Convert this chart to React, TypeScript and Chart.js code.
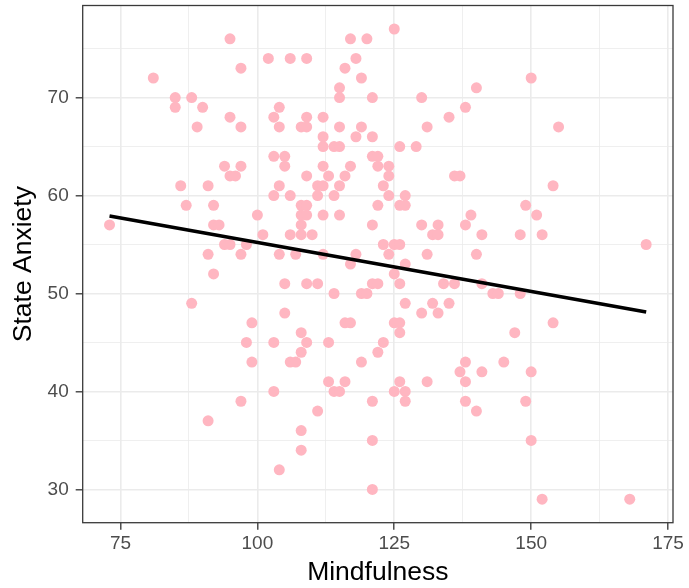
import React, { useEffect, useRef } from 'react';
import { Chart, registerables } from 'chart.js';

Chart.register(...registerables);

// Mindfulness (x) and State Anxiety (y) of each participant
const mindfulness = [
  73, 81, 85, 85, 88, 90, 89, 86, 87, 88, 91, 91, 92, 92, 93, 92, 94, 95, 97, 98,
  100, 101, 103, 104, 104, 105, 105, 99, 98, 103, 99, 103, 97, 91, 104, 95, 102, 97, 95, 97,
  104, 103, 104, 94, 97, 95, 96, 103, 105, 105, 125, 117, 120, 106, 109, 118, 116, 119, 115, 115,
  121, 130, 140, 138, 135, 131, 109, 112, 108, 109, 115, 119, 118, 121, 112, 112, 114, 115, 126, 129,
  121, 122, 112, 117, 122, 124, 124, 109, 113, 116, 136, 137, 150, 155, 106, 111, 112, 115, 123, 127,
  124, 111, 114, 108, 109, 122, 126, 127, 108, 109, 112, 115, 121, 130, 133, 132, 133, 138, 139, 141,
  108, 106, 108, 110, 123, 125, 126, 131, 140, 107, 112, 118, 124, 117, 127, 125, 109, 111, 121, 122,
  126, 134, 136, 114, 119, 120, 127, 132, 135, 130, 133, 116, 117, 125, 126, 126, 108, 109, 113, 123,
  108, 122, 154, 149, 151, 148, 152, 171, 141, 143, 144, 148, 154, 147, 106, 107, 119, 113, 116, 114,
  115, 121, 111, 108, 108, 121, 121, 126, 125, 127, 127, 131, 138, 137, 138, 141, 138, 140, 145, 150,
  149, 150, 152, 168,
];
const anxiety = [
  57, 72, 70, 69, 70, 69, 67, 61, 59, 49, 61, 54, 52, 57, 57, 59, 55, 55, 54, 55,
  58, 56, 60, 61, 54, 51, 48, 47, 45, 45, 43, 40, 39, 37, 32, 76, 74, 73, 68, 67,
  69, 68, 67, 63, 63, 62, 62, 64, 64, 63, 77, 76, 76, 74, 74, 74, 73, 72, 71, 70,
  70, 70, 71, 69, 68, 67, 68, 68, 67, 67, 67, 67, 66, 66, 66, 65, 65, 65, 65, 65,
  64, 64, 63, 63, 63, 63, 62, 62, 62, 62, 62, 62, 72, 67, 60, 61, 61, 61, 61, 60,
  60, 60, 60, 59, 59, 59, 59, 59, 58, 58, 58, 58, 57, 57, 57, 56, 56, 57, 58, 56,
  57, 56, 56, 56, 55, 55, 55, 54, 54, 54, 54, 54, 54, 53, 53, 52, 51, 51, 51, 51,
  51, 51, 51, 50, 50, 50, 49, 49, 49, 48, 48, 47, 47, 47, 47, 46, 46, 45, 45, 45,
  44, 44, 61, 59, 58, 56, 56, 55, 51, 50, 50, 50, 47, 46, 43, 43, 43, 41, 41, 40,
  40, 39, 38, 36, 34, 35, 30, 41, 40, 40, 39, 41, 43, 42, 41, 42, 39, 38, 43, 42,
  39, 35, 29, 29,
];

// Fitted linear trend, read at the ends of the data range
const fitMindfulness = [73, 171];
const fitAnxiety = [57.9, 48.1];

const xMajorTicks = [75, 100, 125, 150, 175];
const xMinorTicks = [87.5, 112.5, 137.5, 162.5];
const yMajorTicks = [30, 40, 50, 60, 70];
const yMinorTicks = [35, 45, 55, 65, 75];

const xTitle = 'Mindfulness';
const yTitle = 'State Anxiety';

const FONT = "'Liberation Sans', Arial, Helvetica, sans-serif";

const panelBorder = {
  id: 'panelBorder',
  afterDatasetsDraw(chart: any) {
    const { ctx, chartArea } = chart;
    ctx.save();
    ctx.strokeStyle = '#3a3a3a';
    ctx.lineWidth = 1.3;
    ctx.strokeRect(chartArea.left, chartArea.top, chartArea.right - chartArea.left, chartArea.bottom - chartArea.top);
    ctx.restore();
  },
};

export default function App() {
  const ref = useRef<HTMLCanvasElement | null>(null);

  useEffect(() => {
    document.body.style.margin = '0';
    const points = mindfulness.map((m, i) => ({ x: m, y: anxiety[i] }));
    const fit = fitMindfulness.map((m, i) => ({ x: m, y: fitAnxiety[i] }));
    const isMajorX = (v: number) => xMajorTicks.includes(v);
    const isMajorY = (v: number) => yMajorTicks.includes(v);

    const chart = new Chart(ref.current as HTMLCanvasElement, {
      type: 'scatter',
      data: {
        datasets: [
          {
            type: 'line',
            data: fit,
            borderColor: '#000000',
            borderWidth: 3.6,
            pointRadius: 0,
            fill: false,
            order: 0,
          } as any,
          {
            type: 'scatter',
            data: points,
            backgroundColor: '#FFB6C1',
            borderWidth: 0,
            pointRadius: 5.5,
            order: 1,
          },
        ],
      },
      options: {
        animation: false,
        responsive: false,
        layout: { padding: { top: 5.5, right: 16, left: 0, bottom: 0 } },
        plugins: { legend: { display: false }, tooltip: { enabled: false } },
        scales: {
          x: {
            type: 'linear',
            min: 68.1,
            max: 175.9,
            afterBuildTicks: (s: any) => {
              s.ticks = [...xMajorTicks, ...xMinorTicks].sort((a, b) => a - b).map((v) => ({ value: v }));
            },
            afterFit: (s: any) => {
              s.height = 65.3;
              s.paddingLeft = 0;
              s.paddingRight = 0;
            },
            ticks: {
              autoSkip: false,
              maxRotation: 0,
              padding: 3,
              color: '#4D4D4D',
              font: { family: FONT, size: 19 },
              callback: (v: any) => (isMajorX(Number(v)) ? String(v) : ''),
            },
            grid: {
              color: '#EBEBEB',
              lineWidth: (c: any) => (c.tick && isMajorX(c.tick.value) ? 1.6 : 0.8),
              tickColor: (c: any) => (c.tick && isMajorX(c.tick.value) ? '#333333' : 'rgba(0,0,0,0)'),
              tickLength: 7,
              tickWidth: 1.3,
              drawTicks: true,
            },
            border: { display: false },
            title: {
              display: true,
              text: xTitle,
              color: '#000000',
              font: { family: FONT, size: 26.5, lineHeight: 1.15 },
              padding: { top: 0, bottom: 0 },
            },
          },
          y: {
            type: 'linear',
            min: 26.6,
            max: 79.4,
            afterBuildTicks: (s: any) => {
              s.ticks = [...yMajorTicks, ...yMinorTicks].sort((a, b) => a - b).map((v) => ({ value: v }));
            },
            afterFit: (s: any) => {
              s.width = 82.7;
              s.paddingTop = 0;
              s.paddingBottom = 0;
            },
            ticks: {
              autoSkip: false,
              padding: 7,
              color: '#4D4D4D',
              font: { family: FONT, size: 19 },
              callback: (v: any) => (isMajorY(Number(v)) ? String(v) : ''),
            },
            grid: {
              color: '#EBEBEB',
              lineWidth: (c: any) => (c.tick && isMajorY(c.tick.value) ? 1.6 : 0.8),
              tickColor: (c: any) => (c.tick && isMajorY(c.tick.value) ? '#333333' : 'rgba(0,0,0,0)'),
              tickLength: 7,
              tickWidth: 1.3,
              drawTicks: true,
            },
            border: { display: false },
            title: {
              display: true,
              text: yTitle,
              color: '#000000',
              font: { family: FONT, size: 26.5, lineHeight: 1.15 },
              padding: { top: 8, bottom: 0 },
            },
          },
        },
      },
      plugins: [panelBorder],
    });
    return () => chart.destroy();
  }, []);

  return (
    <div style={{ width: 689, height: 588, background: '#ffffff' }}>
      <canvas ref={ref} width={689} height={588} style={{ display: 'block' }} />
    </div>
  );
}
